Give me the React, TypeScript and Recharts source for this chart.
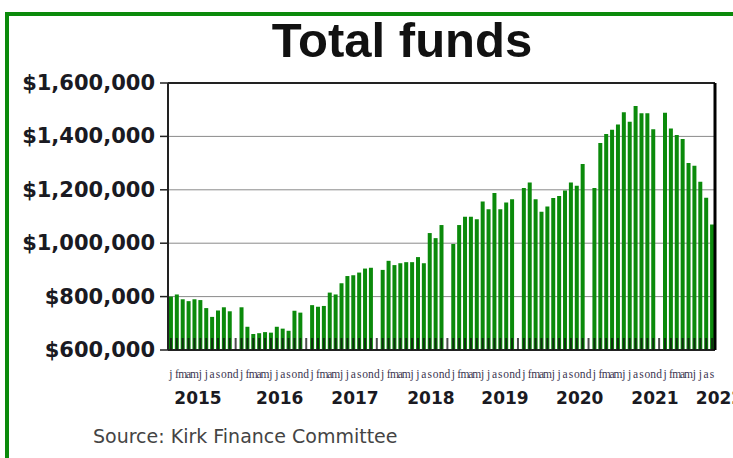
import React from 'react';
import { BarChart, Bar, XAxis, YAxis, CartesianGrid, ReferenceLine } from 'recharts';

// Monthly totals (December not reported -> null)
const years = ['2015', '2016', '2017', '2018', '2019', '2020', '2021', '2022'];
const monthLetters = ['j', 'f', 'm', 'a', 'm', 'j', 'j', 'a', 's', 'o', 'n', 'd'];

const funds2015 = [800000, 808000, 790000, 783000, 790000, 787000, 757000, 724000, 748000, 760000, 745000, null];
const funds2016 = [760000, 687000, 660000, 663000, 667000, 665000, 687000, 680000, 672000, 747000, 740000, null];
const funds2017 = [768000, 762000, 765000, 815000, 808000, 850000, 877000, 880000, 890000, 905000, 908000, null];
const funds2018 = [900000, 934000, 918000, 925000, 929000, 929000, 948000, 925000, 1038000, 1019000, 1068000, null];
const funds2019 = [997000, 1068000, 1099000, 1099000, 1090000, 1156000, 1127000, 1188000, 1127000, 1152000, 1165000, null];
const funds2020 = [1207000, 1227000, 1165000, 1118000, 1137000, 1169000, 1177000, 1197000, 1227000, 1215000, 1297000, null];
const funds2021 = [1207000, 1375000, 1409000, 1425000, 1445000, 1490000, 1455000, 1514000, 1487000, 1487000, 1427000, null];
const funds2022 = [1489000, 1430000, 1405000, 1390000, 1300000, 1290000, 1230000, 1170000, 1070000];

const yTicks = [600000, 800000, 1000000, 1200000, 1400000, 1600000];
// where the year captions sit, measured in month slots from the left of the plot
const yearLabelPos = [5.1, 19.0, 31.8, 44.7, 57.3, 70.0, 82.8, 93.76];

const allYears = [funds2015, funds2016, funds2017, funds2018, funds2019, funds2020, funds2021, funds2022];
const data: { key: string; letter: string; t: number; value: number | null }[] = [];
let idx = 0;
allYears.forEach((arr, yi) => {
  arr.forEach((v, mi) => {
    data.push({ key: `${years[yi]}-${mi + 1}`, letter: monthLetters[mi], t: idx + 0.5, value: v });
    idx += 1;
  });
});
const letterByKey: Record<string, string> = {};
data.forEach((d) => (letterByKey[d.key] = d.letter));

const fmt = (v: number) => '$' + v.toLocaleString('en-US');

const MonthTick = (props: any) => {
  const { x, y, payload } = props;
  return (
    <g>
      <line x1={x} x2={x} y1={y} y2={y - 12} stroke="#111" strokeWidth={2} strokeOpacity={0.75} />
      <text
        x={x}
        y={y + 28}
        textAnchor="middle"
        fontSize={11.5}
        fontFamily="Liberation Serif, serif"
        fill="#3a3550"
      >
        {letterByKey[payload.value]}
      </text>
    </g>
  );
};

const YearTick = (props: any) => {
  const { x, y, index } = props;
  return (
    <text
      x={x}
      y={y + 14}
      textAnchor="middle"
      fontSize={17}
      fontWeight="bold"
      fontFamily="DejaVu Sans, Verdana, sans-serif"
      fill="#1a1a22"
    >
      {years[index]}
    </text>
  );
};

const YTick = (props: any) => {
  const { x, y, payload } = props;
  return (
    <text
      x={x}
      y={y + 7}
      textAnchor="end"
      fontSize={21}
      fontWeight="bold"
      fontFamily="DejaVu Sans, Verdana, sans-serif"
      fill="#1a1a22"
    >
      {fmt(payload.value)}
    </text>
  );
};

export default function App() {
  return (
    <div style={{ position: 'absolute', left: 0, top: 0, width: 733, height: 458, overflow: 'hidden', background: '#fff' }}>
      <div
        style={{
          position: 'absolute',
          left: 5,
          top: 12,
          width: 800,
          height: 500,
          border: '4px solid #0b8a0b',
          boxSizing: 'border-box',
        }}
      />
      <div
        style={{
          position: 'absolute',
          left: 0,
          top: 16,
          width: 804,
          textAlign: 'center',
          fontFamily: 'Liberation Sans, Arial, sans-serif',
          fontWeight: 'bold',
          fontSize: 49,
          lineHeight: '49px',
          color: '#111',
        }}
      >
        Total funds
      </div>
      <div
        style={{
          position: 'absolute',
          left: 93,
          top: 427,
          fontFamily: 'DejaVu Sans, Verdana, sans-serif',
          fontSize: 19,
          lineHeight: '19px',
          color: '#444',
          whiteSpace: 'nowrap',
        }}
      >
        Source: Kirk Finance Committee
      </div>
      <div style={{ position: 'absolute', left: 0, top: 0 }}>
        <BarChart
          width={733}
          height={458}
          data={data}
          margin={{ top: 83, right: 17, left: 0, bottom: 38 }}
          barCategoryGap="16%"
        >
          <CartesianGrid horizontal vertical={false} stroke="#8a8a8a" strokeWidth={1} />
          <XAxis
            dataKey="key"
            interval={0}
            tickLine={false}
            tickSize={0}
            tickMargin={0}
            height={40}
            axisLine={{ stroke: '#222', strokeWidth: 2 }}
            tick={<MonthTick />}
          />
          <XAxis
            xAxisId="yr"
            dataKey="t"
            type="number"
            domain={['dataMin - 0.5', 'dataMax + 0.5']}
            allowDataOverflow
            allowDecimals
            ticks={yearLabelPos}
            interval={0}
            tickLine={false}
            tickSize={0}
            tickMargin={0}
            axisLine={false}
            height={30}
            tick={<YearTick />}
          />
          <YAxis
            domain={[600000, 1600000]}
            ticks={yTicks}
            width={168}
            tickSize={8}
            tickMargin={5}
            tickLine={{ stroke: '#222', strokeWidth: 1.5 }}
            axisLine={{ stroke: '#222', strokeWidth: 2 }}
            tick={<YTick />}
            interval={0}
          />
          <YAxis
            yAxisId="r"
            orientation="right"
            domain={[600000, 1600000]}
            width={1}
            tick={false}
            tickLine={false}
            axisLine={{ stroke: '#000', strokeWidth: 3 }}
          />
          <ReferenceLine y={1600000} stroke="#222" strokeWidth={2} />
          <Bar dataKey="value" fill="#0b8a0b" isAnimationActive={false} />
        </BarChart>
      </div>
    </div>
  );
}
